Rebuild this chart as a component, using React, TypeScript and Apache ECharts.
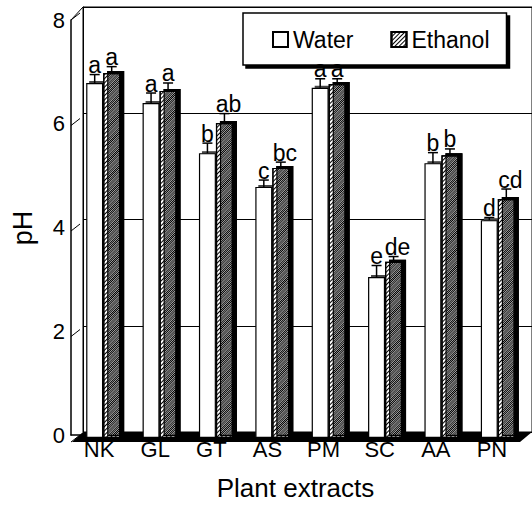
import React, { useEffect, useRef } from "react";
import * as echarts from "echarts";

const categories = ["NK", "GL", "GT", "AS", "PM", "SC", "AA", "PN"];
const waterValues = [6.73, 6.35, 5.4, 4.76, 6.64, 3.05, 5.21, 4.13];
const ethanolValues = [6.92, 6.58, 5.97, 5.12, 6.71, 3.34, 5.36, 4.53];
const waterErrors = [0.16, 0.19, 0.19, 0.13, 0.17, 0.22, 0.2, 0.05];
const ethanolErrors = [0.12, 0.15, 0.18, 0.11, 0.1, 0.1, 0.12, 0.19];
const waterLetters = ["a", "a", "b", "c", "a", "e", "b", "d"];
const ethanolLetters = ["a", "a", "ab", "bc", "a", "de", "b", "cd"];
const yTicks = [0, 2, 4, 6, 8];

const FONT = "'Liberation Sans', Arial, sans-serif";
const BAR_W = 17;
const FRONT_TOP = 20;
const FRONT_BOTTOM_PX = 442;
const FRONT_LEFT = 71;

function errSeries(name: string, values: number[], errors: number[], letters: string[], offset: number, isRight: boolean) {
  return {
    type: "custom",
    name: name + "-err",
    xAxisIndex: 2,
    yAxisIndex: 2,
    z: 10,
    silent: true,
    data: values.map((v, i) => [i, v, errors[i]]),
    renderItem: (params: any, api: any) => {
      const i = api.value(0);
      const v = api.value(1);
      const e = api.value(2);
      const top = api.coord([i, v + e]);
      const base = api.coord([i, v]);
      const cx = top[0] + offset;
      const txt = letters[params.dataIndex];
      const shift = isRight && txt.length > 1 ? 4 : 0;
      return {
        type: "group",
        children: [
          { type: "line", shape: { x1: cx, y1: base[1], x2: cx, y2: top[1] }, style: { stroke: "#000", lineWidth: 1.5 } },
          { type: "line", shape: { x1: cx - 5, y1: top[1], x2: cx + 5, y2: top[1] }, style: { stroke: "#000", lineWidth: 1.5 } },
          {
            type: "text",
            x: cx + shift,
            y: top[1] + 2,
            style: {
              text: txt,
              fontSize: 23,
              fontFamily: FONT,
              fill: "#000",
              align: "center",
              verticalAlign: "bottom",
            },
          },
        ],
      };
    },
  };
}

export default function App() {
  const ref = useRef<HTMLDivElement>(null);
  useEffect(() => {
    if (!ref.current) return;
    const chart = echarts.init(ref.current, undefined, { renderer: "svg" });
    const unit = (FRONT_BOTTOM_PX - FRONT_TOP) / 8;
    const tickLines = yTicks.map((t) => {
      const y = FRONT_BOTTOM_PX - t * unit;
      return {
        type: "line",
        z: 5,
        shape: { x1: FRONT_LEFT, y1: y, x2: FRONT_LEFT + 9, y2: y - 7 },
        style: { stroke: "#000", lineWidth: 1 },
      };
    });
    const option: any = {
      animation: false,
      backgroundColor: "#fff",
      textStyle: { fontFamily: FONT, color: "#000" },
      grid: [
        { left: 83, right: -10, top: 7, bottom: 74, show: true, borderColor: "#000", borderWidth: 1, backgroundColor: "transparent" },
        { left: FRONT_LEFT, right: 12, top: FRONT_TOP, bottom: 506 - FRONT_BOTTOM_PX },
        { left: 75, right: 6, top: 16, bottom: 68 },
      ],
      xAxis: [
        { gridIndex: 0, type: "value", min: 0, max: 1, show: false },
        {
          gridIndex: 1,
          type: "category",
          data: categories,
          axisLine: { show: true, lineStyle: { color: "#000", width: 1.5 } },
          axisTick: { show: false },
          axisLabel: { fontSize: 22, color: "#000", margin: 3, fontFamily: FONT },
          name: "Plant extracts",
          nameLocation: "middle",
          nameGap: 40,
          nameTextStyle: { fontSize: 26, color: "#000", fontFamily: FONT },
        },
        { gridIndex: 2, type: "category", data: categories, show: false },
      ],
      yAxis: [
        {
          gridIndex: 0,
          type: "value",
          min: 0,
          max: 8,
          interval: 2,
          axisLabel: { show: false },
          axisTick: { show: false },
          axisLine: { show: true, lineStyle: { color: "#000", width: 1 } },
          splitLine: { show: true, lineStyle: { color: "#000", width: 1 } },
        },
        {
          gridIndex: 1,
          type: "value",
          min: 0,
          max: 8,
          interval: 2,
          axisLabel: {
            fontSize: 22,
            color: "#000",
            margin: 6,
            fontFamily: FONT,
            formatter: (v: number) => (yTicks.indexOf(v) >= 0 ? String(v) : ""),
          },
          axisTick: { show: false },
          axisLine: { show: true, lineStyle: { color: "#000", width: 1.5 } },
          splitLine: { show: false },
        },
        { gridIndex: 2, type: "value", min: 0, max: 8, show: false },
      ],
      legend: {
        left: 243,
        top: 13,
        padding: [15, 17, 14, 29],
        itemGap: 37,
        itemWidth: 15,
        itemHeight: 15,
        icon: "rect",
        borderColor: "#000",
        borderWidth: 1.5,
        backgroundColor: "#fff",
        shadowColor: "#000",
        shadowOffsetX: 3,
        shadowOffsetY: 3,
        shadowBlur: 0,
        data: ["Water", "Ethanol"],
        textStyle: { fontSize: 23, color: "#000", fontFamily: FONT },
      },
      graphic: [
        {
          type: "polygon",
          z: 0,
          shape: { points: [[72, 442], [83, 432], [532, 432], [520, 442]] },
          style: { fill: "#000" },
        },
        {
          type: "line",
          z: 0,
          shape: { x1: 71, y1: 20, x2: 83, y2: 7 },
          style: { stroke: "#000", lineWidth: 1 },
        },
        ...tickLines,
        {
          type: "text",
          x: 23,
          y: 228,
          rotation: Math.PI / 2,
          style: {
            text: "pH",
            fontSize: 27,
            fontFamily: FONT,
            fill: "#000",
            align: "center",
            verticalAlign: "middle",
          },
        },
      ],
      series: [
        {
          name: "Water",
          type: "bar",
          xAxisIndex: 2,
          yAxisIndex: 2,
          barWidth: BAR_W,
          barGap: "0%",
          z: 3,
          data: waterValues,
          itemStyle: {
            color: "#fff",
            borderColor: "#000",
            borderWidth: 1.2,
            shadowColor: "#444",
            shadowOffsetX: 3,
            shadowOffsetY: -2,
            shadowBlur: 0,
          },
        },
        {
          name: "Ethanol",
          type: "bar",
          xAxisIndex: 2,
          yAxisIndex: 2,
          barWidth: BAR_W,
          barGap: "0%",
          z: 4,
          data: ethanolValues,
          itemStyle: {
            color: "#fff",
            borderColor: "#000",
            borderWidth: 1.2,
            shadowColor: "#000",
            shadowOffsetX: 4,
            shadowOffsetY: -2,
            shadowBlur: 0,
            decal: {
              symbol: "rect",
              symbolSize: 1,
              color: "#000",
              dashArrayX: [1, 0],
              dashArrayY: [1, 2],
              rotation: -Math.PI / 4,
            },
          },
        },
        errSeries("Water", waterValues, waterErrors, waterLetters, -BAR_W / 2, false),
        errSeries("Ethanol", ethanolValues, ethanolErrors, ethanolLetters, BAR_W / 2, true),
      ],
    };
    chart.setOption(option);
    return () => chart.dispose();
  }, []);
  return <div ref={ref} style={{ width: 532, height: 506, position: "absolute", left: 0, top: 0 }} />;
}
